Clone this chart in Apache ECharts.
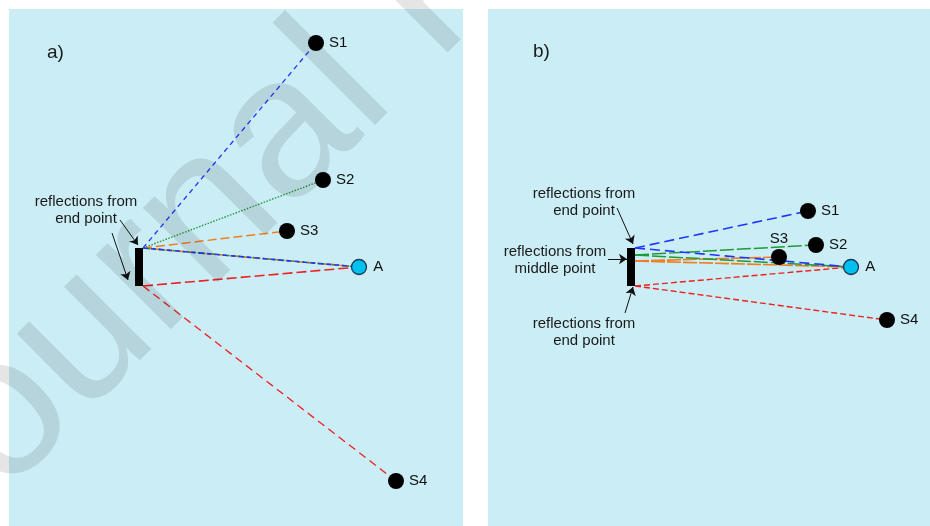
<!DOCTYPE html>
<html>
  <head>
    <title></title>
    <meta charset="UTF-8" />
    <script src="https://cdn.jsdelivr.net/npm/echarts@6/dist/echarts.min.js"></script>
    <style>
      body { margin: 0; background: #fff; }
    </style>
  </head>
  <body>
    <div id="main"></div>
    <script>
      const width = 930;
      const height = 526;
      const main = document.getElementById('main');
      main.style.width = `${width}px`;
      main.style.height = `${height}px`;

      const sourceNames = ['S1', 'S2', 'S3', 'S4'];
      const sourcesA = [[307, 34], [314, 171], [278, 222], [387, 472]];
      const sourcesB = [[320, 202], [328, 236], [291, 248], [399, 311]];
      const receiverA = [350, 258];
      const receiverB = [363, 258];
      const wallA = [126, 239, 134, 277];
      const wallB = [139, 239, 147, 277];

      // reflection points on the wall
      const wallTopA = [134, 239];
      const wallBottomA = [134, 277];
      const wallTopB = [147, 239];
      const wallGreenB = [147, 246];
      const wallOrangeB = [147, 252];
      const wallBottomB = [147, 277];

      const notesA = [{ text: 'reflections from\nend point', at: [77, 201] }];
      const notesB = [
        { text: 'reflections from\nend point', at: [96, 193] },
        { text: 'reflections from\nmiddle point', at: [67, 251] },
        { text: 'reflections from\nend point', at: [96, 323] },
      ];
      const arrowsA = [
        [[111, 211], [129, 236]],
        [[103, 224], [119, 271]],
      ];
      const arrowsB = [
        [[129, 199], [145, 235]],
        [[120, 250], [139, 250]],
        [[137, 304], [145, 278]],
      ];
      const panelLabels = [
        { text: 'a)', at: [38, 44] },
        { text: 'b)', at: [45, 43] },
      ];

      const BLUE = '#1f35ff';
      const GREEN = '#1f9a3a';
      const ORANGE = '#f47c20';
      const RED = '#ee2020';
      const FONT = '"Liberation Sans", Arial, sans-serif';

      function ray(from, to, color, w, dash) {
        return { coords: [from, to], lineStyle: { color: color, width: w, type: dash, opacity: 1 } };
      }

      const raysA = [
        ray(wallTopA, sourcesA[0], BLUE, 1.3, [5, 4]),
        ray(wallTopA, sourcesA[1], GREEN, 1.4, [1.5, 1.5]),
        ray(wallTopA, sourcesA[2], ORANGE, 1.5, [9, 4]),
        ray(wallTopA, receiverA, ORANGE, 1.6, [8, 3]),
        ray(wallTopA, receiverA, GREEN, 1.6, [2, 3]),
        ray(wallTopA, receiverA, BLUE, 1.6, [5, 3]),
        ray(wallBottomA, receiverA, RED, 1.6, [10, 4]),
        ray(wallBottomA, sourcesA[3], RED, 1.3, [8, 5]),
      ];
      const raysB = [
        ray(wallTopB, sourcesB[0], BLUE, 1.6, [10, 5]),
        ray(wallGreenB, sourcesB[1], GREEN, 1.5, [14, 3]),
        ray(wallOrangeB, sourcesB[2], ORANGE, 1.6, [14, 2]),
        ray(wallOrangeB, receiverB, ORANGE, 1.6, [14, 2]),
        ray(wallGreenB, receiverB, GREEN, 1.5, [14, 3]),
        ray(wallTopB, receiverB, BLUE, 1.6, [10, 5]),
        ray(wallBottomB, receiverB, RED, 1.4, [6, 3]),
        ray(wallBottomB, sourcesB[3], RED, 1.4, [6, 3]),
      ];

      function textSeries(idx, items, fontSize, align, lineHeight) {
        return {
          type: 'scatter',
          xAxisIndex: idx,
          yAxisIndex: idx,
          z: 5,
          silent: true,
          symbolSize: 1,
          itemStyle: { color: 'rgba(0,0,0,0)', opacity: 1 },
          label: {
            show: true,
            position: 'inside',
            formatter: '{b}',
            color: '#1a1a1a',
            fontFamily: FONT,
            fontSize: fontSize,
            lineHeight: lineHeight,
            align: align,
            verticalAlign: 'middle',
            textBorderWidth: 0,
          },
          data: items.map((n) => ({ name: n.text, value: n.at })),
        };
      }

      function panelSeries(idx, sources, receiver, wall, rays, notes, arrows, srcLabelPos) {
        return [
          {
            type: 'lines',
            coordinateSystem: 'cartesian2d',
            xAxisIndex: idx,
            yAxisIndex: idx,
            z: 2,
            silent: true,
            data: rays,
          },
          {
            type: 'lines',
            coordinateSystem: 'cartesian2d',
            xAxisIndex: idx,
            yAxisIndex: idx,
            z: 3,
            silent: true,
            symbol: ['none', 'arrow'],
            symbolSize: [5, 8],
            lineStyle: { color: '#111', width: 1, opacity: 1 },
            data: arrows.map((a) => ({ coords: a })),
          },
          {
            type: 'custom',
            xAxisIndex: idx,
            yAxisIndex: idx,
            z: 4,
            silent: true,
            data: [wall],
            renderItem: function (params, api) {
              const p0 = api.coord([api.value(0), api.value(1)]);
              const p1 = api.coord([api.value(2), api.value(3)]);
              return {
                type: 'rect',
                shape: { x: p0[0], y: p0[1], width: p1[0] - p0[0], height: p1[1] - p0[1] },
                style: { fill: '#000' },
              };
            },
          },
          {
            type: 'scatter',
            xAxisIndex: idx,
            yAxisIndex: idx,
            z: 5,
            silent: true,
            symbolSize: 16,
            itemStyle: { color: '#000', opacity: 1 },
            label: {
              show: true,
              position: 'right',
              distance: 5,
              formatter: '{b}',
              color: '#111',
              fontFamily: FONT,
              fontSize: 15,
            },
            data: sources.map((s, i) => {
              const item = { name: sourceNames[i], value: s };
              if (srcLabelPos[i]) item.label = { position: srcLabelPos[i], distance: 3 };
              return item;
            }),
          },
          {
            type: 'scatter',
            xAxisIndex: idx,
            yAxisIndex: idx,
            z: 5,
            silent: true,
            symbolSize: 15,
            itemStyle: { color: '#00c0ef', borderColor: '#1a3a55', borderWidth: 1.3, opacity: 1 },
            label: {
              show: true,
              position: 'right',
              distance: 6,
              formatter: '{b}',
              color: '#111',
              fontFamily: FONT,
              fontSize: 15,
            },
            data: [{ name: 'A', value: receiver }],
          },
          textSeries(idx, notes, 15, 'center', 17),
          textSeries(idx, [panelLabels[idx]], 19, 'left', 22),
        ];
      }

      const panels = [
        { left: 9, top: 9, width: 454, height: 517 },
        { left: 488, top: 9, width: 442, height: 517 },
      ];

      const myChart = echarts.init(main, null, { renderer: 'canvas' });
      const option = {
        animation: false,
        backgroundColor: '#fff',
        grid: panels.map((p) => ({
          left: p.left,
          top: p.top,
          width: p.width,
          height: p.height,
          show: true,
          backgroundColor: '#cbedf5',
          borderWidth: 0,
        })),
        xAxis: panels.map((p, i) => ({
          type: 'value',
          gridIndex: i,
          min: 0,
          max: p.width,
          show: false,
        })),
        yAxis: panels.map((p, i) => ({
          type: 'value',
          gridIndex: i,
          min: 0,
          max: p.height,
          inverse: true,
          show: false,
        })),
        series: [
          ...panelSeries(0, sourcesA, receiverA, wallA, raysA, notesA, arrowsA, []),
          ...panelSeries(1, sourcesB, receiverB, wallB, raysB, notesB, arrowsB, [null, null, 'top', null]),
        ],
        graphic: [
          {
            type: 'text',
            x: -106,
            y: 528,
            rotation: Math.PI / 4,
            z: 100,
            silent: true,
            style: {
              text: 'Journal Pre-proof',
              x: 0,
              y: 0,
              font: '200px "Liberation Sans", Arial, sans-serif',
              fill: 'rgba(0,0,0,0.1)',
              textAlign: 'left',
              verticalAlign: 'middle',
            },
          },
        ],
      };
      myChart.setOption(option);
    </script>
  </body>
</html>
